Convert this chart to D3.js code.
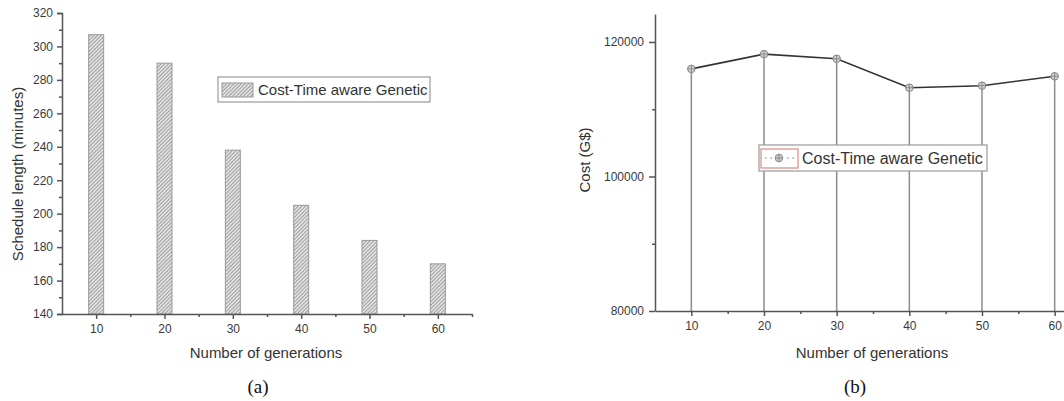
<!doctype html>
<html lang="en">
  <head>
    <meta charset="UTF-8" />
    <title>Schedule length and cost vs number of generations</title>
    <script src="https://d3js.org/d3.v7.min.js"></script>
    <style>
      body {
        margin: 0;
        background: #fff;
      }
      text {
        font-family: 'Liberation Sans', Arial, sans-serif;
        fill: #333;
      }
      .axis path,
      .axis line {
        stroke: #555;
        stroke-width: 1.5px;
      }
      .axis text {
        font-size: 12px;
        fill: #3a3a3a;
      }
      .title {
        font-size: 15px;
      }
      .caption {
        font-family: 'Liberation Serif', 'Times New Roman', serif;
        font-size: 19px;
        fill: #111;
      }
    </style>
  </head>
  <body>
    <svg width="1064" height="401"></svg>
    <script>
      // data
      const generations = [10, 20, 30, 40, 50, 60];
      const scheduleLength = [307, 290, 238, 205, 184, 170];
      const cost = [116000, 118200, 117500, 113200, 113500, 114900];
      const seriesName = 'Cost-Time aware Genetic';
      const scheduleTicks = [140, 160, 180, 200, 220, 240, 260, 280, 300, 320];
      const costTicks = [80000, 100000, 120000];

      const svg = d3.select('svg');

      // hatch pattern for bars
      const defs = svg.append('defs');
      const pat = defs
        .append('pattern')
        .attr('id', 'hatch')
        .attr('patternUnits', 'userSpaceOnUse')
        .attr('width', 2.6)
        .attr('height', 2.6)
        .attr('patternTransform', 'rotate(45)');
      pat
        .append('rect')
        .attr('width', 2.6)
        .attr('height', 2.6)
        .attr('fill', '#e0e0e0');
      pat
        .append('line')
        .attr('x1', 0)
        .attr('y1', 0)
        .attr('x2', 0)
        .attr('y2', 2.6)
        .attr('stroke', '#7c7c7c')
        .attr('stroke-width', 1.2);

      // ---------- (a) bar chart ----------
      const xa = d3.scaleLinear().domain([5, 65]).range([62, 472]);
      const ya = d3.scaleLinear().domain([140, 320]).range([314, 13]);

      const barW = 15;
      svg
        .selectAll('.bar')
        .data(generations)
        .enter()
        .append('rect')
        .attr('class', 'bar')
        .attr('x', (d) => xa(d) - barW / 2)
        .attr('y', (d, i) => ya(scheduleLength[i]))
        .attr('width', barW)
        .attr('height', (d, i) => ya(140) - ya(scheduleLength[i]))
        .attr('fill', 'url(#hatch)')
        .attr('stroke', '#999')
        .attr('stroke-width', 1);

      // minor ticks
      svg
        .append('g')
        .attr('class', 'axis')
        .attr('transform', 'translate(62,0)')
        .call(d3.axisLeft(ya).tickValues(d3.range(150, 320, 20)).tickSize(3).tickFormat(''))
        .select('.domain')
        .remove();
      svg
        .append('g')
        .attr('class', 'axis')
        .attr('transform', 'translate(62,0)')
        .call(d3.axisLeft(ya).tickValues(scheduleTicks).tickSize(5).tickPadding(4));

      svg
        .append('g')
        .attr('class', 'axis')
        .attr('transform', 'translate(0,314)')
        .call(d3.axisBottom(xa).tickValues([15, 25, 35, 45, 55, 65]).tickSize(3).tickFormat(''))
        .select('.domain')
        .remove();
      svg
        .append('g')
        .attr('class', 'axis')
        .attr('transform', 'translate(0,314)')
        .call(d3.axisBottom(xa).tickValues(generations).tickSize(5).tickPadding(5).tickSizeOuter(0));

      svg
        .append('text')
        .attr('class', 'title')
        .attr('transform', 'translate(23,174) rotate(-90)')
        .attr('text-anchor', 'middle')
        .text('Schedule length (minutes)');
      svg
        .append('text')
        .attr('class', 'title')
        .attr('x', 266)
        .attr('y', 358)
        .attr('text-anchor', 'middle')
        .text('Number of generations');
      svg
        .append('text')
        .attr('class', 'caption')
        .attr('x', 258)
        .attr('y', 393)
        .attr('text-anchor', 'middle')
        .text('(a)');

      // legend (a)
      const la = svg.append('g').attr('transform', 'translate(218,77)');
      la.append('rect')
        .attr('width', 212)
        .attr('height', 25)
        .attr('fill', '#fff')
        .attr('stroke', '#999')
        .attr('stroke-width', 1.2);
      la.append('rect')
        .attr('x', 4)
        .attr('y', 6)
        .attr('width', 31)
        .attr('height', 14)
        .attr('fill', 'url(#hatch)')
        .attr('stroke', '#999');
      la.append('text')
        .attr('x', 40)
        .attr('y', 18)
        .style('font-size', '15px')
        .text(seriesName);

      // ---------- (b) line chart ----------
      const xb = d3.scaleLinear().domain([5, 65]).range([655, 1091]);
      const yb = d3.scaleLinear().domain([80000, 124160]).range([311, 14]);

      // drop lines
      svg
        .selectAll('.drop')
        .data(generations)
        .enter()
        .append('line')
        .attr('class', 'drop')
        .attr('x1', (d) => xb(d))
        .attr('x2', (d) => xb(d))
        .attr('y1', (d, i) => yb(cost[i]))
        .attr('y2', yb(80000))
        .attr('stroke', '#8c8c8c')
        .attr('stroke-width', 1.5);

      svg
        .append('g')
        .attr('class', 'axis')
        .attr('transform', 'translate(655,0)')
        .call(d3.axisLeft(yb).tickValues([90000, 110000]).tickSize(3).tickFormat(''))
        .select('.domain')
        .remove();
      svg
        .append('g')
        .attr('class', 'axis')
        .attr('transform', 'translate(655,0)')
        .call(d3.axisLeft(yb).tickValues(costTicks).tickSize(6).tickPadding(5).tickFormat(d3.format('d')).tickSizeOuter(0));

      svg
        .append('g')
        .attr('class', 'axis')
        .attr('transform', 'translate(0,311)')
        .call(d3.axisBottom(xb).tickValues([15, 25, 35, 45, 55]).tickSize(3).tickFormat(''))
        .select('.domain')
        .remove();
      svg
        .append('g')
        .attr('class', 'axis')
        .attr('transform', 'translate(0,311)')
        .call(d3.axisBottom(xb).tickValues(generations).tickSize(5).tickPadding(5).tickSizeOuter(0));

      const line = d3
        .line()
        .x((d) => xb(d))
        .y((d, i) => yb(cost[i]));
      svg
        .append('path')
        .datum(generations)
        .attr('d', line)
        .attr('fill', 'none')
        .attr('stroke', '#333')
        .attr('stroke-width', 1.6);

      function marker(g) {
        g.append('circle')
          .attr('r', 3.8)
          .attr('fill', '#d0d0d0')
          .attr('stroke', '#888')
          .attr('stroke-width', 1);
        g.append('path')
          .attr('d', 'M-3.8,0H3.8M0,-3.8V3.8')
          .attr('stroke', '#888')
          .attr('stroke-width', 1);
      }

      svg
        .selectAll('.pt')
        .data(generations)
        .enter()
        .append('g')
        .attr('class', 'pt')
        .attr('transform', (d, i) => `translate(${xb(d)},${yb(cost[i])})`)
        .call(marker);

      svg
        .append('text')
        .attr('class', 'title')
        .attr('transform', 'translate(590,160) rotate(-90)')
        .attr('text-anchor', 'middle')
        .text('Cost (G$)');
      svg
        .append('text')
        .attr('class', 'title')
        .attr('x', 872)
        .attr('y', 358)
        .attr('text-anchor', 'middle')
        .text('Number of generations');
      svg
        .append('text')
        .attr('class', 'caption')
        .attr('x', 855)
        .attr('y', 393)
        .attr('text-anchor', 'middle')
        .text('(b)');

      // legend (b)
      const lb = svg.append('g').attr('transform', 'translate(759,145)');
      lb.append('rect')
        .attr('width', 228)
        .attr('height', 26)
        .attr('fill', '#fff')
        .attr('stroke', '#999')
        .attr('stroke-width', 1.2);
      lb.append('rect')
        .attr('x', 2)
        .attr('y', 4)
        .attr('width', 37)
        .attr('height', 19)
        .attr('fill', 'none')
        .attr('stroke', '#d88')
        .attr('stroke-width', 1.2);
      lb.append('line')
        .attr('x1', 6)
        .attr('x2', 35)
        .attr('y1', 13)
        .attr('y2', 13)
        .attr('stroke', '#777')
        .attr('stroke-width', 1.2)
        .attr('stroke-dasharray', '1.5,4');
      lb.append('g').attr('transform', 'translate(20,13)').call(marker);
      lb.append('text')
        .attr('x', 43)
        .attr('y', 19)
        .style('font-size', '16px')
        .text(seriesName);
    </script>
  </body>
</html>
